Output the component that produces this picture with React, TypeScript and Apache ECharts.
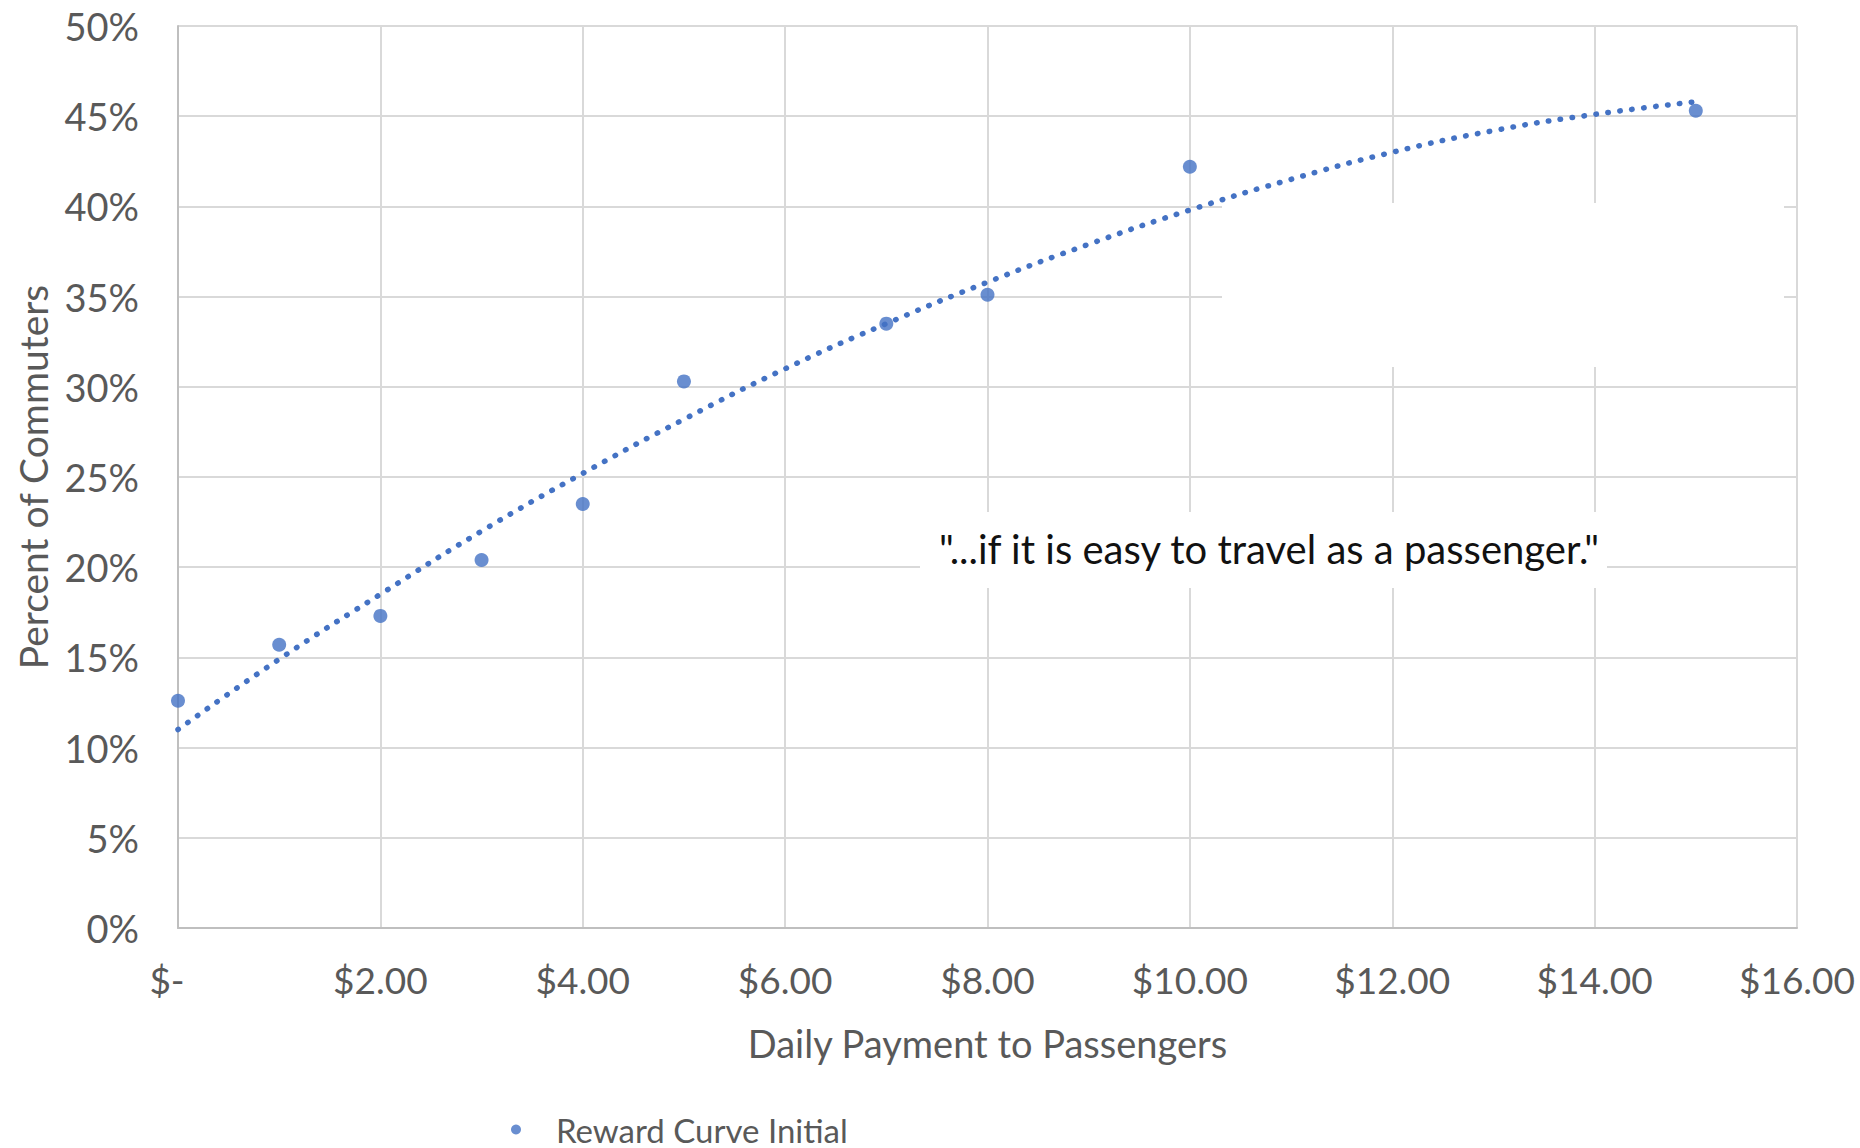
import React, { useEffect, useRef } from "react";
import * as echarts from "echarts";

const payments = [0, 1, 2, 3, 4, 5, 7, 8, 10, 15];
const percents = [12.6, 15.7, 17.3, 20.4, 23.5, 30.3, 33.5, 35.1, 42.2, 45.3];

const trendX = [0, 1, 2, 3, 4, 5, 6, 7, 8, 9, 10, 11, 12, 13, 14, 15];
const trendY = [11.0, 14.9, 18.5, 22.0, 25.2, 28.2, 31.0, 33.5, 35.8, 37.9, 39.8, 41.5, 43.0, 44.2, 45.1, 45.8];

const seriesName = "Reward Curve Initial";
const xTitle = "Daily Payment to Passengers";
const yTitle = "Percent of Commuters";
const quote = "\"...if it is easy to travel as a passenger.\"";

const FONT = "Lato";
const BLUE = "#4472C4";

export default function App() {
  const ref = useRef<HTMLDivElement>(null);
  useEffect(() => {
    if (!ref.current) return;
    const chart = echarts.init(ref.current, undefined, { renderer: "svg" });
    chart.setOption({
      animation: false,
      backgroundColor: "#ffffff",
      textStyle: { fontFamily: FONT },
      grid: { left: 178, right: 63, top: 26, bottom: 220, containLabel: false, outerBoundsMode: "none" },
      xAxis: {
        type: "value",
        min: 0,
        max: 16,
        interval: 2,
        name: xTitle,
        nameLocation: "middle",
        nameGap: 96,
        nameTextStyle: { fontSize: 38, color: "#595959", fontFamily: FONT },
        axisLine: { show: true, lineStyle: { color: "#bfbfbf", width: 2 } },
        axisTick: { show: false },
        splitLine: { show: true, lineStyle: { color: "#d9d9d9", width: 2 } },
        axisLabel: {
          fontSize: 37,
          color: "#595959",
          margin: 33,
          fontFamily: FONT,
          formatter: (v: number) => (v === 0 ? "{z|$-}" : "$" + v.toFixed(2)),
          rich: {
            z: { fontSize: 37, color: "#595959", fontFamily: FONT, padding: [0, 22, 0, 0] },
          },
        },
      },
      yAxis: {
        type: "value",
        min: 0,
        max: 50,
        interval: 5,
        name: yTitle,
        nameLocation: "middle",
        nameGap: 126,
        nameTextStyle: { fontSize: 39, color: "#595959", fontFamily: FONT },
        axisLine: { show: true, lineStyle: { color: "#bfbfbf", width: 2 } },
        axisTick: { show: false },
        splitLine: { show: true, lineStyle: { color: "#d9d9d9", width: 2 } },
        axisLabel: {
          fontSize: 38,
          color: "#595959",
          margin: 39,
          fontFamily: FONT,
          formatter: (v: number) => v + "%",
        },
      },
      legend: {
        data: [seriesName],
        left: 506,
        top: 1108,
        icon: "circle",
        itemWidth: 10,
        itemHeight: 10,
        textStyle: { fontSize: 33, color: "#595959", fontFamily: FONT, padding: [0, 0, 0, 30] },
      },
      graphic: [
        {
          type: "rect",
          z: 1,
          shape: { x: 1222, y: 203, width: 562, height: 164 },
          style: { fill: "#ffffff" },
        },
        {
          type: "rect",
          z: 1,
          shape: { x: 920, y: 512, width: 687, height: 76 },
          style: { fill: "#ffffff" },
        },
        {
          type: "text",
          z: 3,
          x: 1269,
          y: 549,
          style: {
            text: quote,
            fontSize: 40,
            fontFamily: FONT,
            fill: "#111111",
            align: "center",
            verticalAlign: "middle",
          },
        },
      ],
      series: [
        {
          name: "Trend",
          type: "line",
          data: trendX.map((x, i) => [x, trendY[i]]),
          smooth: true,
          showSymbol: false,
          symbol: "none",
          z: 2,
          lineStyle: { color: BLUE, width: 5.5, type: [0.5, 11.5], cap: "round" },
          silent: true,
        },
        {
          name: seriesName,
          type: "scatter",
          data: payments.map((x, i) => [x, percents[i]]),
          symbolSize: 14,
          z: 4,
          itemStyle: { color: BLUE },
        },
      ],
    });
    return () => chart.dispose();
  }, []);
  return (
    <div
      ref={ref}
      style={{ position: "fixed", left: 0, top: 0, width: 1860, height: 1148, background: "#fff" }}
    />
  );
}
